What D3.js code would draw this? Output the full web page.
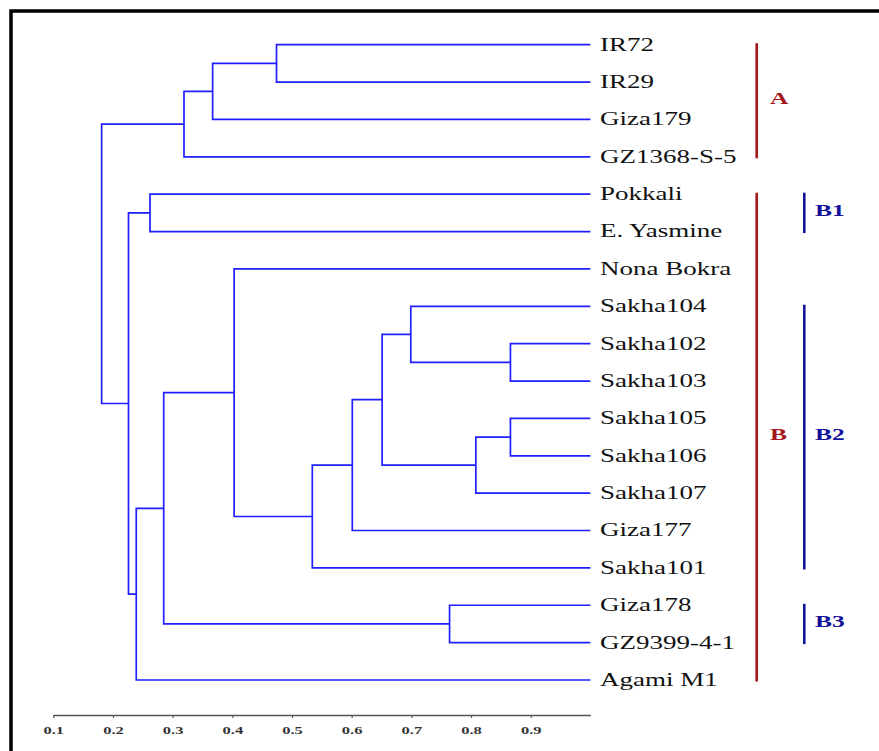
<!DOCTYPE html>
<html>
<head>
<meta charset="utf-8">
<script src="https://cdn.jsdelivr.net/npm/d3@7"></script>
<style>
body { margin: 0; background: #fff; }
</style>
</head>
<body>
<svg width="879" height="751"></svg>
<script>
// leaf order, top to bottom
var leaves = ["IR72", "IR29", "Giza179", "GZ1368-S-5", "Pokkali", "E. Yasmine", "Nona Bokra",
    "Sakha104", "Sakha102", "Sakha103", "Sakha105", "Sakha106", "Sakha107", "Giza177",
    "Sakha101", "Giza178", "GZ9399-4-1", "Agami M1"];

// merges (linkage style): ids below 18 are leaves, 18+ are earlier merges
var mergeA = [0, 18, 19, 4, 8, 7, 10, 24, 23, 26, 27, 6, 15, 29, 31, 21, 20];
var mergeB = [1, 2, 3, 5, 9, 22, 11, 12, 25, 13, 14, 28, 16, 30, 17, 32, 33];
var mergeSim = [0.474, 0.367, 0.319, 0.262, 0.866, 0.699, 0.866, 0.808, 0.651, 0.601,
    0.534, 0.403, 0.764, 0.285, 0.239, 0.226, 0.181];

var tickValues = [0.1, 0.2, 0.3, 0.4, 0.5, 0.6, 0.7, 0.8, 0.9];

var groupNames = ["A", "B", "B1", "B2", "B3"];
var groupFirst = ["IR72", "Pokkali", "Pokkali", "Sakha104", "Giza178"];
var groupLast = ["GZ1368-S-5", "Agami M1", "E. Yasmine", "Sakha101", "GZ9399-4-1"];
var groupLevel = [0, 0, 1, 1, 1];

var svg = d3.select("svg");
var serif = "'Liberation Serif', 'Times New Roman', serif";
var lineColor = "#1f1fff";
var levelColor = ["#a3161b", "#13139a"];
var levelX = [756.7, 804.3];
var levelLabelX = [770, 815];

// frame (only left and top edges show)
svg.append("path")
    .attr("d", "M11,751V11H879")
    .attr("fill", "none")
    .attr("stroke", "#000")
    .attr("stroke-width", 3.5);

// build the tree
var nodes = leaves.map(function (n) { return {name: n, sim: 1.0}; });
mergeA.forEach(function (a, i) {
    nodes.push({children: [nodes[a], nodes[mergeB[i]]], sim: mergeSim[i]});
});
var root = d3.hierarchy(nodes[nodes.length - 1]);

var x = d3.scaleLinear().domain([0.1, 1.0]).range([53.3, 590.4]);
var y = d3.scalePoint().domain(leaves).range([44.7, 680]);

root.eachAfter(function (d) {
    d.x = x(d.data.sim);
    d.y = d.children ? d3.mean(d.children, function (c) { return c.y; }) : y(d.data.name);
});

svg.append("g")
    .selectAll("path")
    .data(root.descendants().filter(function (d) { return d.children; }))
    .enter().append("path")
    .attr("d", function (d) {
        var c0 = d.children[0], c1 = d.children[1];
        return "M" + c0.x + "," + c0.y + "H" + d.x + "V" + c1.y + "H" + c1.x;
    })
    .attr("fill", "none")
    .attr("stroke", lineColor)
    .attr("stroke-width", 1.7);

// leaf labels (the figure is stretched 1.5x horizontally)
svg.append("g")
    .selectAll("text")
    .data(root.leaves())
    .enter().append("text")
    .attr("transform", function (d) { return "translate(600," + d.y + ") scale(1.5,1)"; })
    .attr("dy", "0.33em")
    .style("font-family", serif)
    .style("font-size", "18px")
    .style("fill", "#111")
    .text(function (d) { return d.data.name; });

// group brackets
var groups = svg.append("g")
    .selectAll("g")
    .data(groupNames)
    .enter().append("g");

groups.append("line")
    .attr("x1", function (d, i) { return levelX[groupLevel[i]]; })
    .attr("x2", function (d, i) { return levelX[groupLevel[i]]; })
    .attr("y1", function (d, i) { return y(groupFirst[i]) - 1.5; })
    .attr("y2", function (d, i) { return y(groupLast[i]) + 1.5; })
    .attr("stroke", function (d, i) { return levelColor[groupLevel[i]]; })
    .attr("stroke-width", 2.6);

groups.append("text")
    .attr("transform", function (d, i) {
        var my = (y(groupFirst[i]) + y(groupLast[i])) / 2;
        return "translate(" + levelLabelX[groupLevel[i]] + "," + (my - 3) + ") scale(1.5,1)";
    })
    .attr("dy", "0.35em")
    .style("font-family", serif)
    .style("font-size", "17px")
    .style("font-weight", "bold")
    .style("fill", function (d, i) { return levelColor[groupLevel[i]]; })
    .text(function (d) { return d; });

// axis
var axis = svg.append("g")
    .attr("transform", "translate(0,715)")
    .call(d3.axisBottom(x)
        .tickValues(tickValues)
        .tickFormat(d3.format(".1f"))
        .tickSizeInner(3)
        .tickSizeOuter(0)
        .tickPadding(8));

axis.select(".domain").attr("stroke", "#555").attr("stroke-width", 1.4);
axis.selectAll(".tick line").attr("stroke", "#555").attr("stroke-width", 1.2);
axis.selectAll(".tick text")
    .attr("transform", "scale(1.5,1)")
    .style("font-family", serif)
    .style("font-size", "11px")
    .style("font-weight", "bold")
    .style("fill", "#333");
</script>
</body>
</html>
